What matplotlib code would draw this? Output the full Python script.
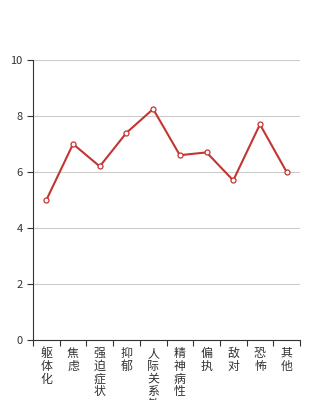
import matplotlib
matplotlib.use("Agg")
import matplotlib.pyplot as plt
import numpy as np

plt.rcParams['font.family'] = ['Noto Sans CJK SC', 'DejaVu Sans']

# --- Data ---
categories = ["躯体化", "焦虑", "强迫症状", "抑郁", "人际关系敏感",
              "精神病性", "偏执", "敌对", "恐怖", "其他"]
values = [5.0, 7.0, 6.2, 7.4, 8.25, 6.6, 6.7, 5.7, 7.7, 6.0]
y_ticks = [0, 2, 4, 6, 8, 10]

# --- Plot ---
fig = plt.figure(figsize=(3.34, 4.0), dpi=100)
ax = fig.add_axes([33 / 334, 60 / 400, 267 / 334, 280 / 400])

x = np.arange(len(categories))
ax.plot(x, values, color='#c23531', linewidth=1.5, marker='o', markersize=3.6,
        markerfacecolor='white', markeredgecolor='#c23531', markeredgewidth=0.9,
        zorder=3, clip_on=False)

ax.set_xlim(-0.5, len(categories) - 0.5)
ax.set_ylim(0, 10)

# y axis
ax.set_yticks(y_ticks)
ax.tick_params(axis='y', direction='out', length=4, width=0.8, colors='#333333',
               labelsize=8)
ax.grid(True, axis='y', color='#cccccc', linewidth=0.8)
ax.set_axisbelow(True)

# x axis: ticks at band edges, labels at band centers (vertical stacked text)
ax.set_xticks(np.arange(-0.5, len(categories), 1.0))
ax.set_xticklabels([])
ax.set_xticks(x, minor=True)
ax.set_xticklabels(["\n".join(c) for c in categories], minor=True,
                   fontsize=8.6, color='#333333', linespacing=0.98, va='top')
ax.tick_params(axis='x', which='major', direction='out', length=4, width=0.8,
               colors='#333333')
ax.tick_params(axis='x', which='minor', length=0, pad=5)

for side in ('top', 'right'):
    ax.spines[side].set_visible(False)
for side in ('left', 'bottom'):
    ax.spines[side].set_color('#333333')
    ax.spines[side].set_linewidth(0.8)

fig.savefig("out.png", dpi=100)
